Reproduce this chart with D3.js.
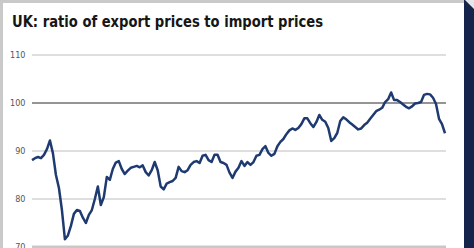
<!DOCTYPE html>
<html>
<head>
<meta charset="utf-8">
<script src="https://cdn.jsdelivr.net/npm/d3@7"></script>
<style>
    html, body { margin: 0; padding: 0; background: #ffffff; }
    svg { display: block; }
</style>
</head>
<body>
<div id="id_chart"></div>
<script>
// chart text
var title_text = "UK: ratio of export prices to import prices"

// y axis ticks
var tick_values = [70, 80, 90, 100, 110]
var tick_labels = ["70", "80", "90", "100", "110"]

// ratio series, one value per period
var ratio_values = [
    88.1, 88.5, 88.75, 88.5, 89.2, 90.4, 92.2, 89.5, 85.0, 82.3,
    77.7, 71.6, 72.4, 74.4, 76.9, 77.7, 77.5, 76.1, 75.0, 76.7,
    77.7, 80.0, 82.6, 78.75, 80.4, 84.6, 84.0, 86.25, 87.6, 87.9,
    86.25, 85.2, 85.9, 86.5, 86.7, 86.9, 86.6, 87.0, 85.6, 84.9,
    86.0, 87.7, 86.0, 82.6, 82.0, 83.2, 83.5, 83.75, 84.4, 86.7,
    85.8, 85.6, 86.0, 87.1, 87.7, 87.9, 87.5, 89.0, 89.2, 88.1,
    87.7, 89.2, 89.2, 87.7, 87.5, 87.1, 85.5, 84.4, 85.7, 86.5,
    87.9, 86.9, 87.7, 87.1, 87.7, 89.0, 89.2, 90.4, 91.0, 89.6,
    89.0, 89.4, 91.0, 91.9, 92.5, 93.5, 94.3, 94.7, 94.4, 94.8,
    95.6, 96.8, 96.8, 95.8, 95.0, 96.0, 97.5, 96.5, 96.1, 94.8,
    92.1, 92.7, 93.75, 96.25, 97.0, 96.6, 96.0, 95.5, 95.0, 94.5,
    94.7, 95.4, 95.9, 96.7, 97.5, 98.3, 98.6, 99.0, 100.2, 100.8,
    102.2, 100.6, 100.6, 100.2, 99.7, 99.2, 98.9, 99.3, 99.9, 100.0,
    100.2, 101.7, 101.9, 101.8, 101.1, 99.8, 96.7, 95.6, 93.7
]

const width = 474
const height = 248
const plot_left = 32
const plot_right = 446

var svg = d3.select("#id_chart")
    .append("svg")
    .attr("width", width)
    .attr("height", height)

// frame: grey edges and the dark band on the right
svg.append("rect").attr("x", 0).attr("y", 0).attr("width", width).attr("height", height).attr("fill", "#ffffff")
svg.append("rect").attr("x", 0).attr("y", 0).attr("width", 464).attr("height", 3).attr("fill", "#c9c9c9")
svg.append("rect").attr("x", 0).attr("y", 0).attr("width", 3).attr("height", height).attr("fill", "#c9c9c9")
svg.append("rect").attr("x", 464).attr("y", 0).attr("width", 10).attr("height", height).attr("fill", "#14244a")
svg.append("path").attr("d", "M465,0L474,0L474,9Z").attr("fill", "#e4e6ea")

svg.append("text")
    .attr("x", 12)
    .attr("y", 26.5)
    .attr("textLength", 311)
    .attr("lengthAdjust", "spacingAndGlyphs")
    .style("font-family", "'DejaVu Sans Condensed', Roboto, sans-serif")
    .style("font-weight", "bold")
    .style("font-size", "16.5px")
    .style("fill", "#161616")
    .text(title_text)

var x = d3.scaleLinear()
    .domain([0, ratio_values.length - 1])
    .range([plot_left, 445])

var y = d3.scaleLinear()
    .domain([70, 110])
    .range([247, 55])

// gridlines
var g_grid = svg.append("g").attr("id", "id_g_grid")
tick_values.forEach((t, i) => {
    var line = g_grid.append("line")
        .attr("x1", plot_left)
        .attr("x2", plot_right)
        .attr("y1", y(t))
        .attr("y2", y(t))
    if (t == 100) {
        line.attr("stroke", "#707070").attr("stroke-width", 1.6)
    } else if (t == 70) {
        line.attr("stroke", "#c8c8c8").attr("stroke-width", 3)
    } else {
        line.attr("stroke", "#bdbdbd").attr("stroke-width", 1)
    }
    g_grid.append("text")
        .attr("x", 25.5)
        .attr("y", y(t))
        .attr("dy", "0.35em")
        .attr("text-anchor", "end")
        .style("font-family", "'Liberation Sans Narrow', 'DejaVu Sans Condensed', sans-serif")
        .style("font-size", "9px")
        .style("fill", "#555555")
        .text(tick_labels[i])
})

var line_gen = d3.line()
    .x((d, i) => x(i))
    .y(d => y(d))

svg.append("path")
    .datum(ratio_values)
    .attr("d", line_gen)
    .attr("fill", "none")
    .attr("stroke", "#1f3a70")
    .attr("stroke-width", 2.5)
    .attr("stroke-linejoin", "round")
</script>
</body>
</html>
